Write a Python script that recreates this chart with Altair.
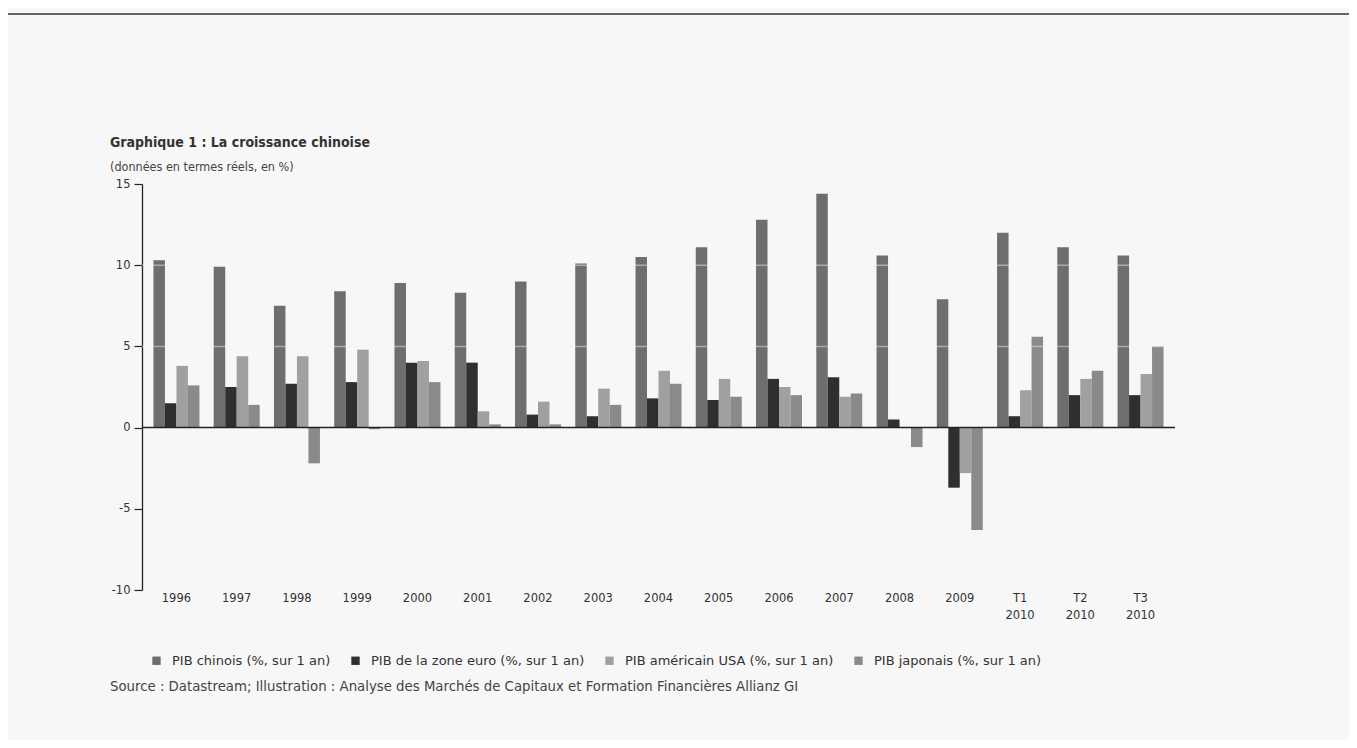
import altair as alt
import pandas as pd

# ---- data ----
categories = ["1996", "1997", "1998", "1999", "2000", "2001", "2002", "2003", "2004",
              "2005", "2006", "2007", "2008", "2009", "T1 2010", "T2 2010", "T3 2010"]
series_names = ["PIB chinois (%, sur 1 an)", "PIB de la zone euro (%, sur 1 an)",
                "PIB américain USA (%, sur 1 an)", "PIB japonais (%, sur 1 an)"]
china = [10.3, 9.9, 7.5, 8.4, 8.9, 8.3, 9.0, 10.1, 10.5, 11.1, 12.8, 14.4, 10.6, 7.9, 12.0, 11.1, 10.6]
euro = [1.5, 2.5, 2.7, 2.8, 4.0, 4.0, 0.8, 0.7, 1.8, 1.7, 3.0, 3.1, 0.5, -3.7, 0.7, 2.0, 2.0]
usa = [3.8, 4.4, 4.4, 4.8, 4.1, 1.0, 1.6, 2.4, 3.5, 3.0, 2.5, 1.9, 0.0, -2.8, 2.3, 3.0, 3.3]
japan = [2.6, 1.4, -2.2, -0.1, 2.8, 0.2, 0.2, 1.4, 2.7, 1.9, 2.0, 2.1, -1.2, -6.3, 5.6, 3.5, 5.0]
colors = ["#6e6e6e", "#2f2f2f", "#a0a0a0", "#8a8a8a"]
y_ticks = [-10, -5, 0, 5, 10, 15]
grid_vals = [5, 10]

title_text = "Graphique 1 : La croissance chinoise"
subtitle_text = "(données en termes réels, en %)"
source_text = ("Source : Datastream; Illustration : Analyse des Marchés de Capitaux et "
               "Formation Financières Allianz GI")

rows = []
for i, c in enumerate(categories):
    for name, vals in zip(series_names, [china, euro, usa, japan]):
        rows.append({"cat": c, "serie": name, "val": vals[i]})
df = pd.DataFrame(rows)

W, H = 1033, 406
LEFT, TOP = 134, 176
FONT_N = "Liberation Sans Narrow, DejaVu Sans Condensed"
FONT = "DejaVu Sans"
TX = -32  # left edge of title / subtitle / source, relative to the plot area

x_enc = alt.X("cat:N", sort=categories,
              scale=alt.Scale(paddingInner=0.237, paddingOuter=0.19),
              axis=alt.Axis(title=None, domain=False, ticks=False, labelAngle=0,
                            labelExpr="split(datum.label, ' ')", labelPadding=8,
                            labelLineHeight=17, labelFontSize=11.5, labelColor="#333",
                            labelFont=FONT, labelBaseline="middle"))
y_enc = alt.Y("val:Q", scale=alt.Scale(domain=[-10, 15], nice=False),
              axis=alt.Axis(title=None, values=y_ticks, grid=False, domainColor="#222",
                            domainWidth=1.3, tickColor="#222", tickSize=8, tickWidth=1.2,
                            labelExpr="datum.value < 0 ? '-' + abs(datum.value) : datum.label",
                            labelFontSize=11.5, labelColor="#333", labelFont=FONT,
                            labelPadding=4))

bars = alt.Chart(df).mark_bar().encode(
    x=x_enc,
    xOffset=alt.XOffset("serie:N", sort=series_names, scale=alt.Scale(paddingInner=0, paddingOuter=0)),
    y=y_enc,
    color=alt.Color("serie:N", sort=series_names,
                    scale=alt.Scale(domain=series_names, range=colors),
                    legend=alt.Legend(title=None, orient="none", direction="horizontal",
                                      legendX=8, legendY=470, symbolType="square",
                                      symbolSize=70, symbolStrokeWidth=0, labelFontSize=13,
                                      labelFont=FONT, labelColor="#333", columnPadding=18,
                                      labelOffset=9, columns=4, labelLimit=400)),
)

grid = alt.Chart(pd.DataFrame({"g": grid_vals})).mark_rule(
    color="#f4f4f4", opacity=0.45, strokeWidth=1.5
).encode(y="g:Q", x=alt.value(0), x2=alt.value(W))

zero = alt.Chart(pd.DataFrame({"z": [0]})).mark_rule(color="#222", strokeWidth=1.5).encode(
    y="z:Q", x=alt.value(0), x2=alt.value(W))

one = pd.DataFrame({"k": [0]})
title = alt.Chart(one).mark_text(text=title_text, align="left", baseline="middle",
                                 font=FONT_N, fontSize=14, fontWeight="bold", color="#333").encode(
    x=alt.value(TX), y=alt.value(-41))
subtitle = alt.Chart(one).mark_text(text=subtitle_text, align="left", baseline="middle",
                                    font=FONT_N, fontSize=12.5, color="#444").encode(
    x=alt.value(TX), y=alt.value(-17))
source = alt.Chart(one).mark_text(text=source_text, align="left", baseline="middle",
                                  font=FONT, fontSize=13.3, color="#444").encode(
    x=alt.value(TX), y=alt.value(503))
border = alt.Chart(one).mark_rule(color="#333", strokeWidth=1.5).encode(
    x=alt.value(-LEFT), x2=alt.value(W + 174), y=alt.value(-170))

chart = alt.layer(bars, grid, zero, title, subtitle, source, border).properties(
    width=W, height=H,
    autosize=alt.AutoSizeParams(type="none"),
    padding={"left": LEFT, "top": TOP, "right": 174, "bottom": 150},
    background="#f7f7f7",
).configure_view(stroke=None).resolve_scale(y="shared")

chart.save("out.html", embed_options={"renderer": "svg", "actions": False})
